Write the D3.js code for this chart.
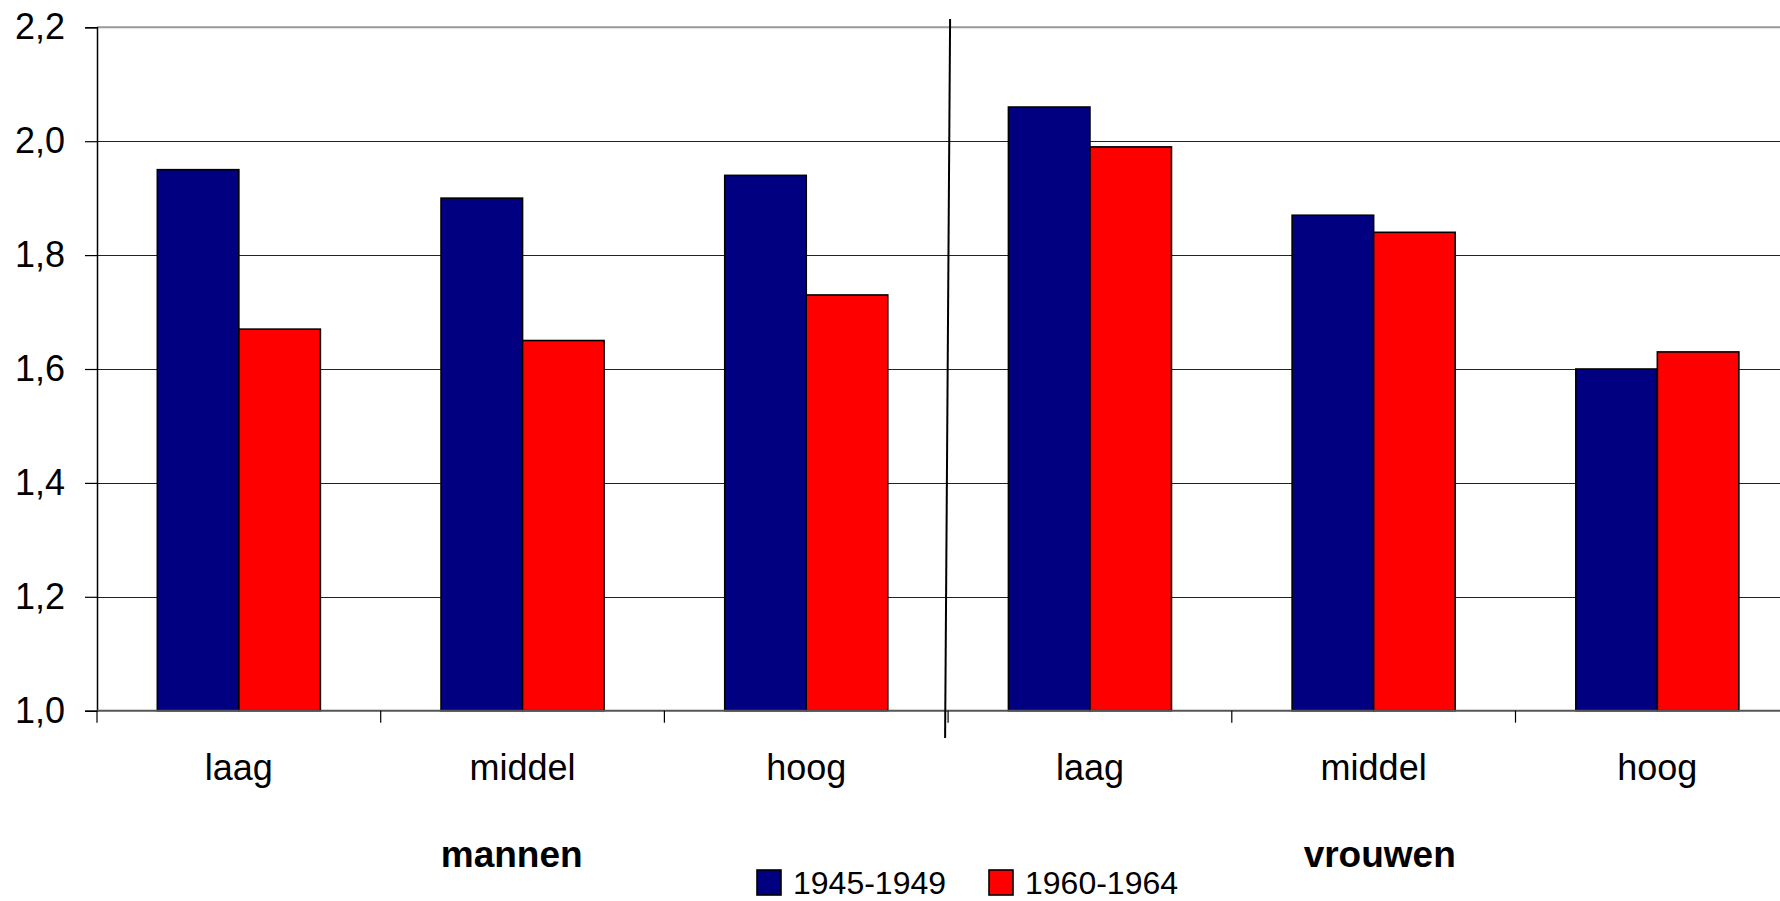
<!DOCTYPE html>
<html>
<head>
<meta charset="utf-8">
<script src="https://cdn.jsdelivr.net/npm/d3@7"></script>
<style>
  html, body { margin: 0; padding: 0; background: #fff; overflow: hidden; }
  svg { display: block; font-family: "Liberation Sans", Arial, sans-serif; }
</style>
</head>
<body>
<svg id="chart" width="1780" height="901"></svg>
<script>
// ---- data ----
const categories = ["laag", "middel", "hoog", "laag", "middel", "hoog"];
const groups = ["mannen", "vrouwen"];
const seriesNames = ["1945-1949", "1960-1964"];
const values1945 = [1.95, 1.90, 1.94, 2.06, 1.87, 1.60];
const values1960 = [1.67, 1.65, 1.73, 1.99, 1.84, 1.63];
const yTicks = [1.0, 1.2, 1.4, 1.6, 1.8, 2.0, 2.2];
const colors = ["#000080", "#FF0000"];

// ---- layout ----
const svg = d3.select("#chart");
const x0 = 97, step = 283.7;
const x = d3.scaleBand().domain(d3.range(categories.length))
  .range([x0, x0 + step * categories.length]).paddingInner(0).paddingOuter(0);
const xi = d3.scaleBand().domain([0, 1]).range([0, x.bandwidth()])
  .paddingInner(0).paddingOuter(0.74);
const y = d3.scaleLinear().domain([1.0, 2.2]).range([710.7, 27.3]);

// gridlines
svg.append("g").selectAll("line").data(yTicks.filter(t => t > 1.0 && t < 2.2)).join("line")
  .attr("x1", x0).attr("x2", 1780)
  .attr("y1", d => Math.round(y(d)) + 0.5).attr("y2", d => Math.round(y(d)) + 0.5)
  .attr("stroke", "#222").attr("stroke-width", 1);
// top border
svg.append("line").attr("x1", x0).attr("x2", 1780)
  .attr("y1", y(2.2)).attr("y2", y(2.2))
  .attr("stroke", "#999").attr("stroke-width", 2);

// bars
const data = categories.map((c, i) => ({ i, vals: [values1945[i], values1960[i]] }));
const g = svg.append("g").selectAll("g").data(data).join("g")
  .attr("transform", d => `translate(${x(d.i)},0)`);
g.selectAll("rect").data(d => d.vals.map((v, s) => ({ v, s }))).join("rect")
  .attr("x", d => xi(d.s))
  .attr("width", xi.bandwidth())
  .attr("y", d => y(d.v))
  .attr("height", d => y(1.0) - y(d.v))
  .attr("fill", d => colors[d.s])
  .attr("stroke", "#000").attr("stroke-width", 1.6);

// y axis
const yAxis = d3.axisLeft(y).tickValues(yTicks).tickSize(12).tickPadding(20)
  .tickFormat(d => d3.format(".1f")(d).replace(".", ","));
const ya = svg.append("g").attr("transform", `translate(${x0},0)`).call(yAxis);
ya.select(".domain").attr("stroke", "#000").attr("stroke-width", 1.5);
ya.selectAll(".tick line").attr("stroke", "#000").attr("stroke-width", 1.2);
ya.selectAll("text").attr("font-size", 36).attr("fill", "#000")
  .attr("font-family", "'Liberation Sans', Arial, sans-serif");

// x axis
const xa = svg.append("g").attr("transform", `translate(0,${y(1.0)})`);
xa.append("line").attr("x1", x0).attr("x2", 1780).attr("y1", 0).attr("y2", 0)
  .attr("stroke", "#555").attr("stroke-width", 2);
const bounds = d3.range(categories.length + 1).map(k => x0 + step * k);
xa.selectAll("line.tk").data(bounds.filter(b => b < 1780)).join("line").attr("class", "tk")
  .attr("x1", d => d).attr("x2", d => d).attr("y1", 0).attr("y2", 12)
  .attr("stroke", "#000").attr("stroke-width", 1.2);
xa.selectAll("text.cat").data(data).join("text").attr("class", "cat")
  .attr("x", d => x(d.i) + x.bandwidth() / 2)
  .attr("y", 69)
  .attr("text-anchor", "middle")
  .attr("font-size", 36)
  .text(d => categories[d.i]);

// group labels
const groupX = [511.7, 1379.7];
svg.selectAll("text.grp").data(groups).join("text").attr("class", "grp")
  .attr("x", (d, k) => groupX[k]).attr("y", 866.5)
  .attr("text-anchor", "middle").attr("font-size", 37).attr("font-weight", "bold")
  .text(d => d);

// divider line between groups
const divX = x(3);
svg.append("line")
  .attr("x1", divX + 2).attr("y1", 19)
  .attr("x2", divX - 3).attr("y2", 738)
  .attr("stroke", "#000").attr("stroke-width", 2);

// legend
const legendX = [757, 989];
const lg = svg.append("g").selectAll("g").data(seriesNames).join("g")
  .attr("transform", (d, k) => `translate(${legendX[k]},870)`);
lg.append("rect").attr("width", 24).attr("height", 25)
  .attr("fill", (d, k) => colors[k]).attr("stroke", "#000").attr("stroke-width", 1.6);
lg.append("text").attr("x", 36).attr("y", 24).attr("font-size", 32).text(d => d);
</script>
</body>
</html>
